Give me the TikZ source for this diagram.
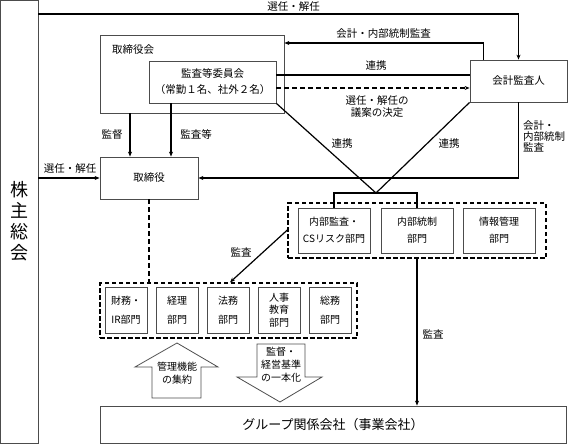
\documentclass[tikz,border=0pt]{standalone}
\usepackage{fontspec}
\setmainfont{Noto Sans CJK JP}
\usetikzlibrary{arrows.meta,calc}
\begin{document}
\begin{tikzpicture}[x=1pt,y=-1pt,
  box/.style={draw=black!70, line width=0.8pt, inner sep=0pt, align=center, font=\fontsize{10.5}{16}\selectfont},
  sbox/.style={draw=black!70, line width=0.8pt, inner sep=0pt, align=center, minimum width=42pt, minimum height=46pt, font=\fontsize{10}{19}\selectfont},
  mbox/.style={draw=black!70, line width=0.8pt, inner sep=0pt, align=center, minimum width=72pt, minimum height=45pt, font=\fontsize{10}{17}\selectfont},
  grp/.style={draw=black, line width=1.3pt, dash pattern=on 4.5pt off 2.5pt, inner sep=0pt},
  conn/.style={draw=black, line width=1.2pt},
  arr/.style={-{Stealth[length=5pt,width=4pt]}},
  dsh/.style={dash pattern=on 5pt off 3pt},
  lbl/.style={inner sep=0pt, align=center, font=\fontsize{10.5}{12.5}\selectfont},
  barrow/.style={draw=black!70, line width=0.8pt, line join=miter}
]
\useasboundingbox (0,0) rectangle (568,444);

% main boxes
\node[box, minimum width=38pt, minimum height=443pt, font=\fontsize{18}{21}\selectfont] (kabu) at (19,221.5) {株\\主\\総\\会};
\node[box, minimum width=184pt, minimum height=78pt] (torikai) at (192,74) {};
\node[lbl, anchor=west] (torikailbl) at (112,50) {取締役会};
\node[box, minimum width=127pt, minimum height=42pt] (kansa) at (212.5,82) {監査等委員会\\（常勤１名、社外２名）};
\node[box, minimum width=97pt, minimum height=42pt] (kaikei) at (518.5,81) {会計監査人};
\node[box, minimum width=98pt, minimum height=42pt] (tori) at (149,178) {取締役};

% internal audit group
\node[grp, minimum width=258pt, minimum height=55pt] (g1) at (417,230.5) {};
\node[mbox] (naibu) at (334,230.5) {内部監査・\\CSリスク部門};
\node[mbox] (tosei) at (417,230.5) {内部統制\\部門};
\node[mbox] (joho) at (499,230.5) {情報管理\\部門};

% management group
\node[grp, minimum width=257pt, minimum height=55pt] (g2) at (228.5,310.5) {};
\node[sbox] (zaimu) at (126,310) {財務・\\IR部門};
\node[sbox] (keiri) at (177,310) {経理\\部門};
\node[sbox] (homu) at (228,310) {法務\\部門};
\node[sbox, font=\fontsize{10}{12.5}\selectfont] (jinji) at (279,310) {人事\\教育\\部門};
\node[sbox] (somu) at (330,310) {総務\\部門};

% group companies
\node[box, minimum width=466pt, minimum height=37pt, font=\fontsize{13}{15}\selectfont] (kaisha) at (333,424.5) {グループ関係会社（事業会社）};

\coordinate (meet) at (376,193);

% connectors
\draw[conn,arr] (kabu.east |- 0,14) -| (kaikei.north);
\node[lbl] (l1) at (293.5,6.5) {選任・解任};
\draw[conn,arr] ($(kaikei.north west)+(14,0)$) |- (torikai.east |- 0,43);
\node[lbl] (l2) at (383.5,33.5) {会計・内部統制監査};
\draw[conn] (kansa.east |- 0,75) -- (kaikei.west |- 0,75);
\node[lbl] (l3) at (376,66) {連携};
\draw[conn,dsh,arr] (kansa.east |- 0,88) -- (kaikei.west |- 0,88);
\node[lbl] (l4) at (377,106.5) {選任・解任の\\議案の決定};
\draw[conn] (kansa.south east) -- (meet) -- (kaikei.south west);
\node[lbl] (l5) at (342,143.5) {連携};
\node[lbl] (l6) at (449,143.5) {連携};
\draw[conn] (naibu.north) |- (meet) -| (tosei.north);
\draw[conn,arr] (kaikei.south) |- (tori.east);
\node[lbl, align=left, anchor=north west, font=\fontsize{10.5}{11}\selectfont] (l7) at (523,120) {会計・\\内部統制\\監査};
\draw[conn,arr] (torikai.south -| 130,0) -- (tori.north -| 130,0);
\node[lbl] (l8) at (112,134.5) {監督};
\draw[conn,arr] (kansa.south -| 171,0) -- (tori.north -| 171,0);
\node[lbl] (l9) at (196,134.5) {監査等};
\draw[conn,arr] (kabu.east |- tori.west) -- (tori.west);
\node[lbl] (l10) at (70,168.5) {選任・解任};
\draw[conn,dsh] (tori.south) -- (tori.south |- g2.north);
\draw[conn,arr] (g1.west |- 0,230) -- (g2.north -| 230,0);
\node[lbl] (l11) at (241,252) {監査};
\draw[conn,arr] (g1.south -| tosei.south) -- (kaisha.north -| tosei.south);
\node[lbl] (l12) at (433,334) {監査};

% block arrows
\draw[barrow] (152,398) -- (152,367) -- (135,367) -- (177,343) -- (218,367) -- (201,367) -- (201,398) -- cycle;
\node[lbl, font=\fontsize{10}{12.5}\selectfont] (shuyaku) at (177,373) {管理機能\\の集約};
\draw[barrow] (257,344) -- (305,344) -- (305,377) -- (322,377) -- (280,402) -- (237,377) -- (257,377) -- cycle;
\node[lbl, font=\fontsize{10}{13}\selectfont] (ippon) at (281,365) {監督・\\経営基準\\の一本化};
\end{tikzpicture}
\end{document}
